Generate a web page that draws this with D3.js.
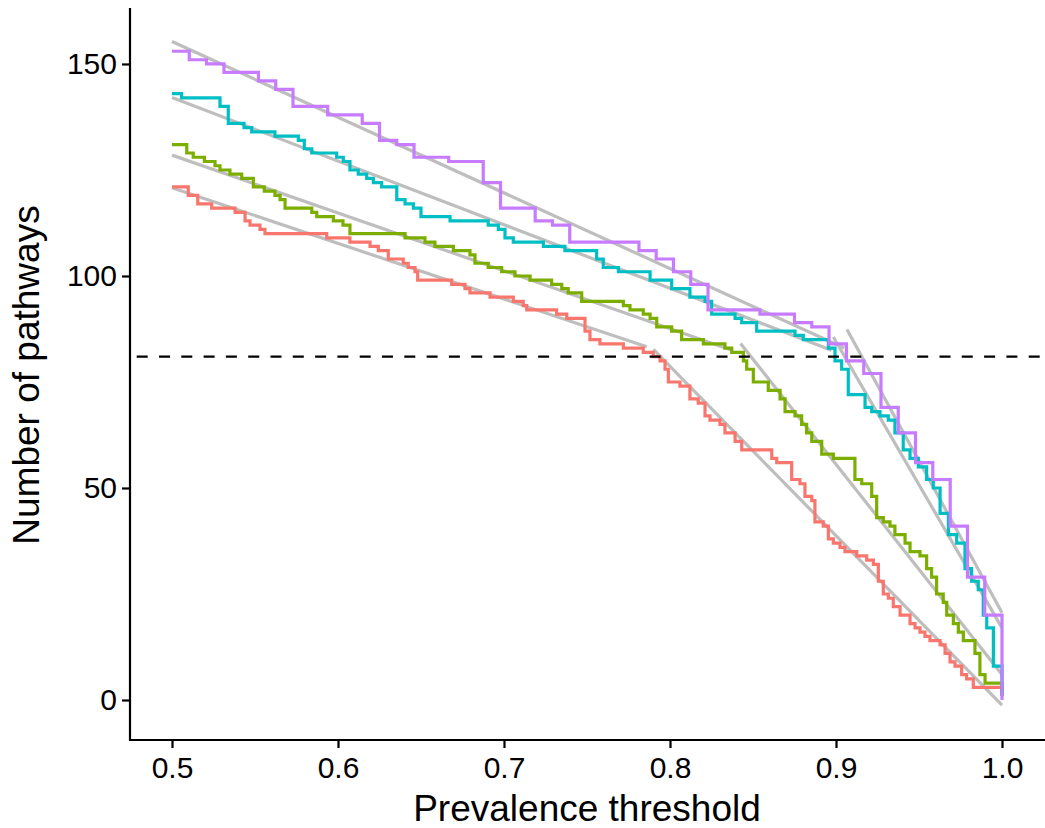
<!DOCTYPE html>
<html><head><meta charset="utf-8">
<script src="https://cdn.jsdelivr.net/npm/d3@7"></script>
<style>body{margin:0;background:#fff} svg{display:block}</style>
</head><body><svg id="c" width="1045" height="828"></svg>
<script>
const xTicks = [0.5, 0.6, 0.7, 0.8, 0.9, 1.0];
const yTicks = [0, 50, 100, 150];
const cutoff = 81;
const xTitle = "Prevalence threshold";
const yTitle = "Number of pathways";

const redX = [0.5,0.5098,0.5155,0.5239,0.5380,0.5440,0.5470,0.5530,0.5560,0.5932,0.6072,0.6193,0.6243,0.6303,0.6393,0.6423,0.6464,0.6480,0.6685,0.6765,0.6795,0.6916,0.7056,0.7116,0.7137,0.7317,0.7378,0.7488,0.7518,0.7578,0.7719,0.7839,0.7899,0.7940,0.7970,0.7990,0.8060,0.8120,0.8170,0.8211,0.8241,0.8301,0.8331,0.8392,0.8432,0.8613,0.8643,0.8733,0.8783,0.8813,0.8854,0.8873,0.8923,0.8954,0.8984,0.9024,0.9054,0.9125,0.9185,0.9225,0.9255,0.9285,0.9315,0.9345,0.9386,0.9446,0.9476,0.9506,0.9536,0.9566,0.9627,0.9657,0.9687,0.9717,0.9757,0.9787,0.9827,1.0];
const redY = [121,119,117,116,115,113,112,111,110,109,108,107,106,104,103,102,101,99,98,97,96,95,94,93,92,91,90,87,85,84,83,82,81,80,78,75,74,71,70,67,66,65,63,61,59,57,56,52,51,48,47,42,41,38,37,36,35,34,33,32,28,25,24,22,20,18,17,16,15,14,13,11,9,8,6,5,3,1];

const greenX = [0.5,0.5089,0.5128,0.5195,0.5259,0.5289,0.5349,0.5420,0.5490,0.5556,0.5620,0.5651,0.5681,0.5842,0.5872,0.5972,0.6030,0.6072,0.6404,0.6524,0.6584,0.6695,0.6795,0.6825,0.6905,0.6986,0.7066,0.7157,0.7287,0.7348,0.7387,0.7468,0.7719,0.7759,0.7839,0.7880,0.7920,0.8010,0.8070,0.8201,0.8331,0.8372,0.8442,0.8462,0.8502,0.8592,0.8663,0.8693,0.8753,0.8793,0.8823,0.8854,0.8914,0.8984,0.9114,0.9155,0.9215,0.9245,0.9285,0.9325,0.9355,0.9416,0.9446,0.9506,0.9546,0.9576,0.9606,0.9646,0.9667,0.9707,0.9737,0.9767,0.9837,0.9867,0.9898,1.0];
const greenY = [131,129,128,127,126,125,124,123,121,120,119,118,116,115,114,113,112,110,109,108,107,106,105,103,102,101,100,99,98,97,96,94,93,92,91,90,88,87,85,84,83,82,80,78,75,73,71,68,67,65,63,61,58,57,52,51,48,43,42,41,39,37,35,34,31,29,25,23,20,18,16,14,11,6,4,1];

const cyanX = [0.5,0.5058,0.5289,0.5339,0.5434,0.5480,0.5620,0.5761,0.5797,0.5842,0.5992,0.6032,0.6072,0.6122,0.6173,0.6213,0.6263,0.6354,0.6404,0.6454,0.6500,0.6675,0.6905,0.6966,0.7006,0.7056,0.7237,0.7367,0.7558,0.7598,0.7689,0.7880,0.8010,0.8120,0.8211,0.8251,0.8392,0.8432,0.8522,0.8753,0.8803,0.8954,0.8994,0.9034,0.9074,0.9175,0.9215,0.9265,0.9315,0.9355,0.9405,0.9446,0.9496,0.9546,0.9586,0.9627,0.9677,0.9727,0.9777,0.9817,0.9857,0.9887,0.9908,0.9948,1.0];
const cyanY = [143,142,140,136,135,134,133,132,130,129,128,127,125,124,123,122,121,118,117,116,114,113,112,111,109,108,107,106,104,102,101,99,97,95,94,91,90,89,87,86,85,83,80,78,72,69,68,67,66,63,59,57,55,52,50,44,39,37,31,28,26,20,17,8,1];

const purpleX = [0.5,0.5104,0.5208,0.5313,0.5521,0.5625,0.5729,0.5938,0.6146,0.6250,0.6354,0.6458,0.6667,0.6875,0.6979,0.7188,0.7292,0.7396,0.7813,0.7917,0.8021,0.8125,0.8229,0.8542,0.8750,0.8854,0.8958,0.9063,0.9167,0.9271,0.9375,0.9479,0.9583,0.9688,0.9792,0.9896,1.0];
const purpleY = [153,151,150,148,146,144,140,138,136,132,131,128,127,122,116,113,112,108,106,104,101,98,92,91,89,88,84,80,77,69,63,56,52,41,29,20,0];

// piecewise fits: [x1, y1, x2, y2]
const fitRed = [[0.5, 120.8, 0.786, 83.3], [0.790, 82.7, 1.0, -1.2]];
const fitGreen = [[0.5, 128.5, 0.8373, 82.5], [0.8425, 84.1, 1.0, 6.0]];
const fitCyan = [[0.5, 142.1, 0.8973, 82.5], [0.8984, 85.6, 1.0, 17.0]];
const fitPurple = [[0.5, 155.3, 0.905, 83.0], [0.9066, 87.4, 1.0, 20.6]];

const colors = {red: "#F8766D", green: "#7CAE00", cyan: "#00BFC4", purple: "#C77CFF"};
const seriesList = [
  {name: "red", xs: redX, ys: redY, fit: fitRed},
  {name: "green", xs: greenX, ys: greenY, fit: fitGreen},
  {name: "cyan", xs: cyanX, ys: cyanY, fit: fitCyan},
  {name: "purple", xs: purpleX, ys: purpleY, fit: fitPurple}
];

const svg = d3.select("#c");
const font = "'Liberation Sans', Arial, Helvetica, sans-serif";
const x = d3.scaleLinear().domain([0.475, 1.025]).range([130.5, 1043.5]);
const y = d3.scaleLinear().domain([-9.434, 163.2]).range([740, 8]);

// fits
const gFit = svg.append("g");
seriesList.forEach(s => {
  gFit.selectAll(null).data(s.fit).enter().append("line")
    .attr("x1", d => x(d[0])).attr("y1", d => y(d[1]))
    .attr("x2", d => x(d[2])).attr("y2", d => y(d[3]))
    .attr("stroke", "#BEBEBE").attr("stroke-width", 3.2);
});

// steps
const line = d3.line().curve(d3.curveStepAfter).x(d => x(d[0])).y(d => y(d[1]));
seriesList.forEach(s => {
  svg.append("path")
    .datum(s.xs.map((v, i) => [v, s.ys[i]]))
    .attr("d", line)
    .attr("fill", "none")
    .attr("stroke", colors[s.name])
    .attr("stroke-width", 3.2)
    .attr("stroke-linejoin", "miter");
});

// cutoff line
svg.append("line")
  .attr("x1", 130).attr("x2", 1045)
  .attr("y1", y(cutoff)).attr("y2", y(cutoff))
  .attr("stroke", "#000").attr("stroke-width", 2.2)
  .attr("stroke-dasharray", "11,11.3")
  .attr("stroke-dashoffset", -6.7);

// axes
const xAxis = svg.append("g").attr("transform", "translate(0,740)")
  .call(d3.axisBottom(x).tickValues(xTicks).tickFormat(d3.format(".1f")).tickSize(8).tickSizeOuter(0).tickPadding(9));
const yAxis = svg.append("g").attr("transform", "translate(130,0)")
  .call(d3.axisLeft(y).tickValues(yTicks).tickSize(8).tickSizeOuter(0).tickPadding(5));
[xAxis, yAxis].forEach(a => {
  a.select(".domain").attr("stroke", "#000").attr("stroke-width", 2.2);
  a.selectAll(".tick line").attr("stroke", "#000").attr("stroke-width", 2.2);
  a.selectAll(".tick text").attr("fill", "#000").style("font-family", font).style("font-size", "30px");
});
xAxis.select(".domain").attr("d", "M130,0H1045");
yAxis.select(".domain").attr("d", "M0,8V741");

svg.append("text").attr("x", 587).attr("y", 821).attr("text-anchor", "middle")
  .style("font-family", font).style("font-size", "37px").text(xTitle);
svg.append("text").attr("transform", "translate(39,375) rotate(-90)").attr("text-anchor", "middle")
  .style("font-family", font).style("font-size", "37px").text(yTitle);
</script></body></html>
